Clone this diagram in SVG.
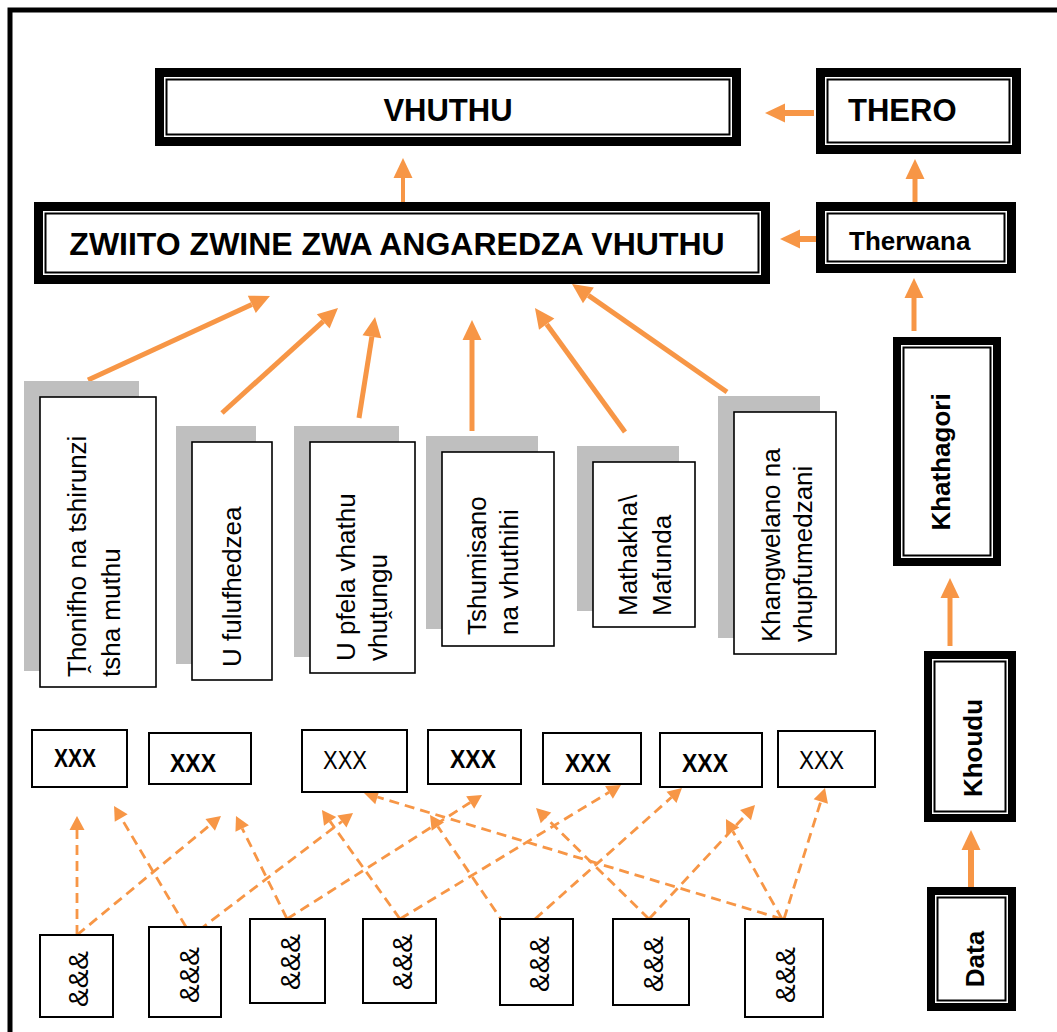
<svg xmlns="http://www.w3.org/2000/svg" width="1057" height="1032" viewBox="0 0 1057 1032">
  <defs>
    <style>
      .t { font-family: "Liberation Sans", Arial, sans-serif; fill: #000; }
      .b { font-weight: bold; }
      .band { fill: #000; }
      .inner { fill: #fff; }
      .rule { fill: none; stroke: #000; stroke-width: 2; }
      .shadow { fill: #bfbfbf; }
      .card { fill: #fff; stroke: #000; stroke-width: 1.6; }
      .box { fill: #fff; stroke: #000; stroke-width: 2; }
      .solid { fill: none; stroke: #f79646; stroke-width: 5; marker-end: url(#head); }
      .dash { fill: none; stroke: #f79646; stroke-width: 2.8; stroke-dasharray: 10 6; marker-end: url(#dhead); }
    </style>
    <marker id="head" markerUnits="userSpaceOnUse" markerWidth="20" markerHeight="19" refX="0" refY="9.5" orient="auto" overflow="visible">
      <path d="M0,0 L20,9.5 L0,19 Z" fill="#f79646"/>
    </marker>
    <marker id="dhead" markerUnits="userSpaceOnUse" markerWidth="14" markerHeight="15" refX="0" refY="7.5" orient="auto" overflow="visible">
      <path d="M0,0 L14,7.5 L0,15 Z" fill="#f79646"/>
    </marker>
  </defs>

  <rect width="1057" height="1032" fill="#fff"/>
  <!-- page frame (runs off the right and bottom edges) -->
  <rect x="10" y="10" width="1100" height="1100" fill="none" stroke="#000" stroke-width="5"/>

  <!-- connectors -->
  <g id="connectors">
    <!-- right-hand chain and top level -->
    <line class="solid" x1="403" y1="203" x2="403" y2="178" style="stroke-width:4"/>
    <line class="solid" x1="814" y1="113" x2="785" y2="113" style="stroke-width:6"/>
    <line class="solid" x1="816" y1="239" x2="800" y2="239" style="stroke-width:6"/>
    <line class="solid" x1="915" y1="202" x2="915" y2="179"/>
    <line class="solid" x1="914" y1="331" x2="914" y2="298"/>
    <line class="solid" x1="950" y1="646" x2="950" y2="598"/>
    <line class="solid" x1="971" y1="888" x2="971" y2="850" style="stroke-width:6"/>
    <!-- attribute cards to ZWIITO box -->
    <line class="solid" x1="88" y1="380" x2="251.8" y2="304.4"/>
    <line class="solid" x1="222" y1="413" x2="323.2" y2="321.4"/>
    <line class="solid" x1="359" y1="418" x2="371.9" y2="336.7"/>
    <line class="solid" x1="472" y1="431" x2="472" y2="340"/>
    <line class="solid" x1="625" y1="432" x2="546.7" y2="324.2"/>
    <line class="solid" x1="727" y1="392" x2="588.4" y2="295.4"/>
    <!-- dashed links from &&& boxes to XXX boxes -->
    <line class="dash" x1="77" y1="935" x2="77" y2="830"/>
    <line class="dash" x1="77" y1="935" x2="210.2" y2="824.9"/>
    <line class="dash" x1="186" y1="927" x2="121.2" y2="818"/>
    <line class="dash" x1="186" y1="940" x2="341.9" y2="821.5"/>
    <line class="dash" x1="294" y1="933" x2="242.2" y2="828.5"/>
    <line class="dash" x1="287" y1="919" x2="470.2" y2="802.5"/>
    <line class="dash" x1="400" y1="919" x2="330.1" y2="821.4"/>
    <line class="dash" x1="400" y1="919" x2="609" y2="792.3"/>
    <line class="dash" x1="505" y1="925" x2="437.9" y2="826.6"/>
    <line class="dash" x1="535" y1="919" x2="671.5" y2="797.3"/>
    <line class="dash" x1="649" y1="919" x2="546" y2="817.8"/>
    <line class="dash" x1="649" y1="919" x2="745.5" y2="815.2"/>
    <line class="dash" x1="782" y1="919" x2="377.4" y2="797"/>
    <line class="dash" x1="782" y1="919" x2="732.8" y2="831.2"/>
    <line class="dash" x1="784" y1="919" x2="820.8" y2="801.4"/>
  </g>

  <!-- framed title boxes: thick band, white gap, thin rule -->
  <g id="vhuthu">
    <rect class="band" x="155" y="68" width="586" height="78"/>
    <rect class="inner" x="164" y="77" width="568" height="60"/>
    <rect class="rule" x="166.5" y="79.5" width="563" height="55"/>
    <text class="t b" x="448" y="121" font-size="31" text-anchor="middle">VHUTHU</text>
  </g>
  <g id="thero">
    <rect class="band" x="816" y="68" width="205" height="86"/>
    <rect class="inner" x="825" y="77" width="187" height="68"/>
    <rect class="rule" x="827.5" y="79.5" width="182" height="63"/>
    <text class="t b" x="848" y="121" font-size="31">THERO</text>
  </g>
  <g id="zwiito">
    <rect class="band" x="34" y="202" width="736" height="82"/>
    <rect class="inner" x="43" y="211" width="718" height="64"/>
    <rect class="rule" x="45.5" y="213.5" width="713" height="59"/>
    <text class="t b" x="397" y="255" font-size="32" text-anchor="middle">ZWIITO ZWINE ZWA ANGAREDZA VHUTHU</text>
  </g>
  <g id="therwana">
    <rect class="band" x="816" y="202" width="200" height="71"/>
    <rect class="inner" x="825" y="211" width="182" height="53"/>
    <rect class="rule" x="827.5" y="213.5" width="177" height="48"/>
    <text class="t b" x="849" y="250" font-size="26">Therwana</text>
  </g>
  <g id="khathagori">
    <rect class="band" x="893" y="337" width="108" height="229"/>
    <rect class="inner" x="901" y="345" width="92" height="213"/>
    <rect class="rule" x="903.5" y="347.5" width="87" height="208"/>
    <text class="t b" transform="translate(950,462) rotate(-90)" font-size="26" text-anchor="middle">Khathagori</text>
  </g>
  <g id="khoudu">
    <rect class="band" x="924" y="651" width="92" height="171"/>
    <rect class="inner" x="932" y="659" width="76" height="155"/>
    <rect class="rule" x="934.5" y="661.5" width="71" height="150"/>
    <text class="t b" transform="translate(982,748) rotate(-90)" font-size="26" text-anchor="middle">Khoudu</text>
  </g>
  <g id="data">
    <rect class="band" x="927" y="887" width="89" height="124"/>
    <rect class="inner" x="935" y="895" width="73" height="108"/>
    <rect class="rule" x="937.5" y="897.5" width="68" height="103"/>
    <text class="t b" transform="translate(984,959) rotate(-90)" font-size="26" text-anchor="middle">Data</text>
  </g>

  <!-- attribute cards with offset grey shadow -->
  <g id="card-thonifho">
    <rect class="shadow" x="24" y="381" width="115" height="290"/>
    <rect class="card" x="40" y="397" width="116" height="290"/>
    <text class="t" font-size="26" transform="translate(86,677) rotate(-90)">Ṱhonifho na tshirunzi</text>
    <text class="t" font-size="26" transform="translate(120,677) rotate(-90)">tsha muthu</text>
  </g>
  <g id="card-fulufhedzea">
    <rect class="shadow" x="176" y="426" width="80" height="238"/>
    <rect class="card" x="192" y="442" width="80" height="238"/>
    <text class="t" font-size="26" transform="translate(241,667) rotate(-90)">U fulufhedzea</text>
  </g>
  <g id="card-pfela">
    <rect class="shadow" x="294" y="426" width="105" height="231"/>
    <rect class="card" x="310" y="442" width="105" height="231"/>
    <text class="t" font-size="26" transform="translate(355,661) rotate(-90)">U pfela vhathu</text>
    <text class="t" font-size="26" transform="translate(387,661) rotate(-90)">vhuṱungu</text>
  </g>
  <g id="card-tshumisano">
    <rect class="shadow" x="426" y="436" width="112" height="193"/>
    <rect class="card" x="442" y="452" width="112" height="194"/>
    <text class="t" font-size="26" transform="translate(486,635) rotate(-90)">Tshumisano</text>
    <text class="t" font-size="26" transform="translate(518,635) rotate(-90)">na vhuthihi</text>
  </g>
  <g id="card-mathakha">
    <rect class="shadow" x="577" y="446" width="102" height="165"/>
    <rect class="card" x="593" y="462" width="102" height="165"/>
    <text class="t" font-size="26" transform="translate(637,616) rotate(-90)">Mathakha\</text>
    <text class="t" font-size="26" transform="translate(671,616) rotate(-90)">Mafunda</text>
  </g>
  <g id="card-khangwelano">
    <rect class="shadow" x="718" y="396" width="102" height="242"/>
    <rect class="card" x="734" y="412" width="102" height="242"/>
    <text class="t" font-size="26" transform="translate(780,642) rotate(-90)">Khangwelano na</text>
    <text class="t" font-size="26" transform="translate(812,642) rotate(-90)">vhupfumedzani</text>
  </g>

  <!-- XXX row -->
  <g id="x1"><rect class="box" x="32" y="730" width="95" height="57"/><text class="t b" x="54" y="767" font-size="25" textLength="42" lengthAdjust="spacingAndGlyphs">XXX</text></g>
  <g id="x2"><rect class="box" x="149" y="733" width="102" height="51"/><text class="t b" x="170" y="772" font-size="26" textLength="46" lengthAdjust="spacingAndGlyphs">XXX</text></g>
  <g id="x3"><rect class="box" x="302" y="730" width="105" height="62"/><text class="t" x="323" y="769" font-size="26" textLength="44" lengthAdjust="spacingAndGlyphs">XXX</text></g>
  <g id="x4"><rect class="box" x="428" y="730" width="93" height="54"/><text class="t b" x="450" y="768" font-size="26" textLength="46" lengthAdjust="spacingAndGlyphs">XXX</text></g>
  <g id="x5"><rect class="box" x="543" y="733" width="98" height="51"/><text class="t b" x="565" y="772" font-size="26" textLength="46" lengthAdjust="spacingAndGlyphs">XXX</text></g>
  <g id="x6"><rect class="box" x="660" y="733" width="102" height="54"/><text class="t b" x="682" y="772" font-size="26" textLength="46" lengthAdjust="spacingAndGlyphs">XXX</text></g>
  <g id="x7"><rect class="box" x="778" y="731" width="97" height="56"/><text class="t" x="799" y="769" font-size="26" textLength="45" lengthAdjust="spacingAndGlyphs">XXX</text></g>

  <!-- &&& row -->
  <g id="a1"><rect class="box" x="40" y="935" width="73" height="82"/><text class="t" font-size="28" text-anchor="middle" transform="translate(88,979) rotate(-90)">&amp;&amp;&amp;</text></g>
  <g id="a2"><rect class="box" x="149" y="927" width="72" height="90"/><text class="t" font-size="28" text-anchor="middle" transform="translate(199,975) rotate(-90)">&amp;&amp;&amp;</text></g>
  <g id="a3"><rect class="box" x="250" y="919" width="75" height="84"/><text class="t" font-size="28" text-anchor="middle" transform="translate(300,962) rotate(-90)">&amp;&amp;&amp;</text></g>
  <g id="a4"><rect class="box" x="363" y="919" width="73" height="84"/><text class="t" font-size="28" text-anchor="middle" transform="translate(412,962) rotate(-90)">&amp;&amp;&amp;</text></g>
  <g id="a5"><rect class="box" x="500" y="919" width="73" height="86"/><text class="t" font-size="28" text-anchor="middle" transform="translate(549,964) rotate(-90)">&amp;&amp;&amp;</text></g>
  <g id="a6"><rect class="box" x="613" y="919" width="76" height="86"/><text class="t" font-size="28" text-anchor="middle" transform="translate(663,964) rotate(-90)">&amp;&amp;&amp;</text></g>
  <g id="a7"><rect class="box" x="745" y="919" width="78" height="98"/><text class="t" font-size="28" text-anchor="middle" transform="translate(795,975) rotate(-90)">&amp;&amp;&amp;</text></g>
</svg>
